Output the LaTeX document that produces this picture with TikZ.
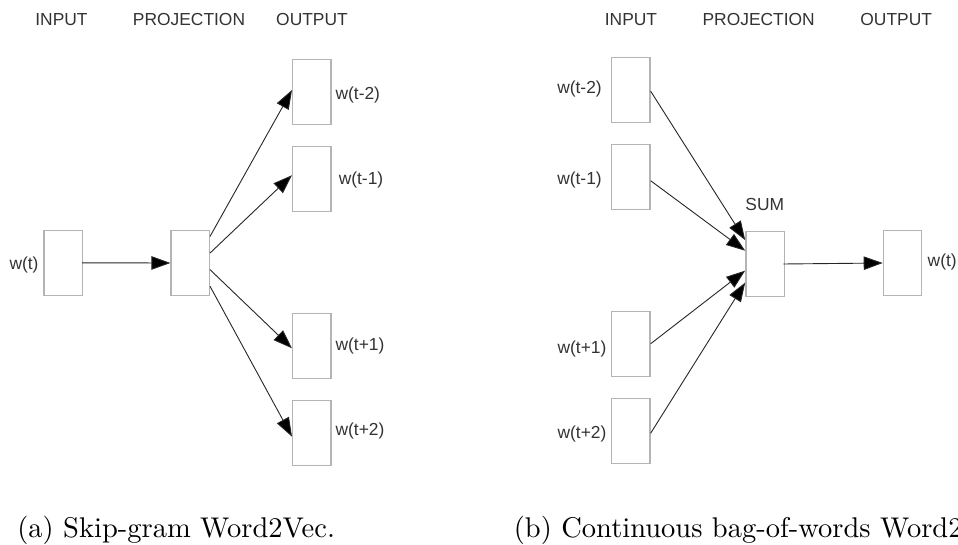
\documentclass[tikz,border=0pt]{standalone}
\usepackage{fontspec}
\newfontfamily\labelfont{Liberation Sans}
\usetikzlibrary{arrows.meta,calc}

\definecolor{boxgray}{HTML}{B4B4B4}
\definecolor{linegray}{HTML}{262626}
\definecolor{textgray}{HTML}{333333}

\tikzset{
  unitbox/.style={draw=boxgray, line width=1.3pt, fill=white,
    minimum width=38.3pt, minimum height=65pt, inner sep=0pt},
  wlabel/.style={font=\labelfont\fontsize{17.4}{20}\selectfont, text=textgray, inner sep=0pt},
  header/.style={wlabel},
  flow/.style={draw=linegray, line width=0.9pt,
    -{Triangle[length=19pt,width=13.5pt,fill=black]}},
  subcap/.style={font=\fontsize{10}{12}\selectfont, scale=2.85, anchor=base west, inner sep=0pt}
}

\begin{document}
\begin{tikzpicture}[x=1pt,y=-1pt]
  \useasboundingbox (0,0) rectangle (958,545);
  \clip (0,0) rectangle (958,545);

  % ---------------- Skip-gram ----------------
  \node[header] (hinA)   at (61.5,20) {INPUT};
  \node[header] (hprojA) at (189,20)  {PROJECTION};
  \node[header] (houtA)  at (312,20)  {OUTPUT};

  \node[unitbox] (inA)   at (63.2,262.8) {};
  \node[unitbox] (projA) at (190.2,263)  {};
  \node[unitbox] (oA1)   at (311.8,91.8)  {};
  \node[unitbox] (oA2)   at (311.8,178.7) {};
  \node[unitbox] (oA3)   at (311.8,345.8) {};
  \node[unitbox] (oA4)   at (311.8,432.7) {};

  \node[wlabel] (lin)  at (24,265)    {w(t)};
  \node[wlabel] (loA1) at (357.8,95)  {w(t-2)};
  \node[wlabel] (loA2) at (361,180)   {w(t-1)};
  \node[wlabel] (loA3) at (360,345.7) {w(t+1)};
  \node[wlabel] (loA4) at (360,430.7) {w(t+2)};

  \draw[flow] ([xshift=-1pt]inA.east) -- (projA.west);
  \draw[flow] ($(projA.north east)!0.10!(projA.south east)$) -- ([yshift=1.8pt]oA1.west);
  \draw[flow] ($(projA.north east)!0.35!(projA.south east)$) -- ([yshift=3.5pt]oA2.west);
  \draw[flow] ($(projA.north east)!0.60!(projA.south east)$) -- ([yshift=-2.5pt]oA3.west);
  \draw[flow] ($(projA.north east)!0.85!(projA.south east)$) -- ([yshift=-4pt]oA4.west);

  \node[subcap] (capA) at (16.7,537) {(a) Skip-gram Word2Vec.};

  % ---------------- CBOW ----------------
  \node[header] (hinB)   at (631,20)    {INPUT};
  \node[header] (hprojB) at (758.7,20)  {PROJECTION};
  \node[header] (houtB)  at (896.2,20)  {OUTPUT};

  \node[unitbox] (iB1)  at (630.8,89.7)  {};
  \node[unitbox] (iB2)  at (630.8,177)   {};
  \node[unitbox] (iB3)  at (630.8,343.8) {};
  \node[unitbox] (iB4)  at (630.8,430.8) {};
  \node[unitbox] (sumB) at (765,264)     {};
  \node[unitbox] (outB) at (902.5,263)   {};

  \node[wlabel] (liB1) at (579.5,89.3) {w(t-2)};
  \node[wlabel] (liB2) at (579.5,180)  {w(t-1)};
  \node[wlabel] (liB3) at (582,349)    {w(t+1)};
  \node[wlabel] (liB4) at (582,434)    {w(t+2)};
  \node[wlabel] (lsum) at (764.8,205)  {SUM};
  \node[wlabel, anchor=west] (loutB) at (927.5,262) {w(t)};

  \draw[flow] ([yshift=-1.4pt]iB1.east) -- ($(sumB.north west)!0.14!(sumB.south west)$);
  \draw[flow] ([yshift=-3.7pt]iB2.east) -- ($(sumB.north west)!0.30!(sumB.south west)$);
  \draw[flow] (iB3.east) -- ($(sumB.north west)!0.60!(sumB.south west)$);
  \draw[flow] ([yshift=-2.5pt]iB4.east) -- ($(sumB.north west)!0.78!(sumB.south west)$);
  \draw[flow] ([xshift=-1.5pt]sumB.east) -- (outB.west);

  \node[subcap] (capB) at (513.3,537) {(b) Continuous bag-of-words Word2Vec.};
\end{tikzpicture}
\end{document}
